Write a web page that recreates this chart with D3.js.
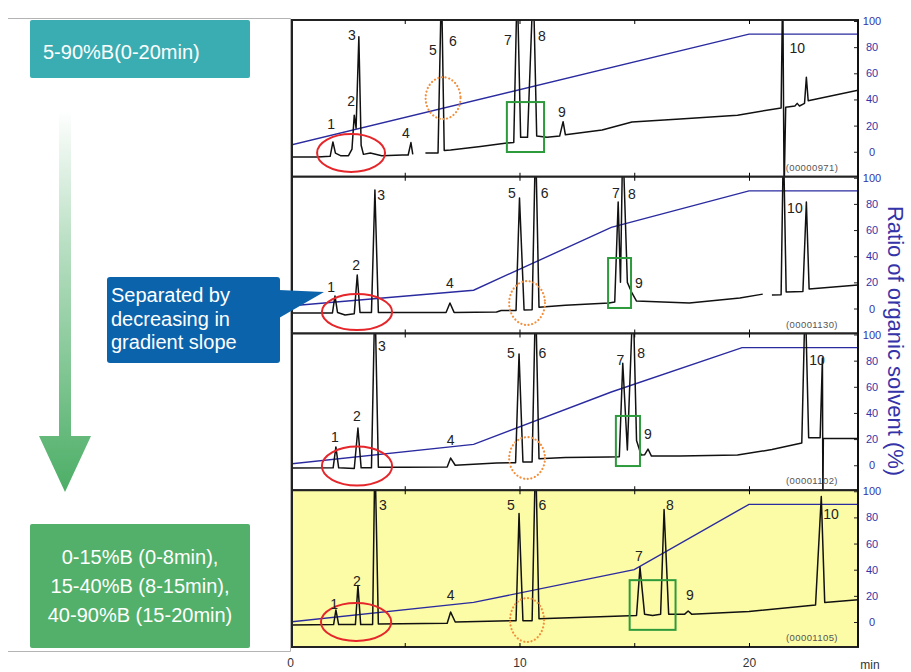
<!DOCTYPE html>
<html lang="en">
<head>
  <meta charset="utf-8">
  <title>Gradient optimisation – chromatograms</title>
  <script src="https://d3js.org/d3.v7.min.js"></script>
  <style>
    body { margin: 0; background: #fff; font-family: "Liberation Sans", Arial, sans-serif; }
    svg { display: block; }
    .peak { font-size: 14px; fill: #222; }
    .pid { font-size: 9.5px; fill: #555; letter-spacing: 0.4px; }
  </style>
</head>
<body>
  <svg width="911" height="672"></svg>
  <script>
    // ---- data ----
    const timeTicks = [0, 10, 20];
    const timeMinor = [5, 10, 15, 20];
    const ratioTicks = [0, 20, 40, 60, 80, 100];
    const panelIds = ["(00000971)", "(00001130)", "(00001102)", "(00001105)"];

    // %B programme of each run [min, %]
    const gradient1 = [[0, 5], [20, 90], [24.75, 90]];
    const gradient2 = [[0, 2], [8, 14], [14, 62], [20, 90], [24.75, 90]];
    const gradient3 = [[0, 1], [8, 16], [14, 56], [19.7, 90], [24.75, 90]];
    const gradient4 = [[0, 0], [8, 15], [15, 40], [20, 90], [24.75, 90]];

    // detector traces [min, signal]; null = break in the trace
    const trace1 = [[0, -4], [1.2, -4], [1.75, -3.5], [1.87, 7.5], [1.98, -1], [2.2, -3], [2.55, -3], [2.7, 2], [2.8, 28],
      [2.88, 18], [3.0, 88], [3.1, 5], [3.2, -2], [3.5, -1], [4.0, -3], [4.9, -2.5], [5.15, -2.5], [5.27, 7], [5.35, -2],
      null, [5.9, -1], [6.45, -1], [6.6, 130], [6.72, 1], [7.0, 1.3], [8.3, 4], [9.45, 6.7], [9.75, 7], [9.9, 130],
      [10.05, 11], [10.35, 11], [10.6, 130], [10.75, 12], [11.2, 11], [11.75, 12], [11.9, 23], [12.0, 13], [13.6, 16.6],
      [14.9, 22.7], [17, 25], [19.5, 28], [21.4, 33.5], [21.47, 130], [21.53, -30], [21.6, 34], [22.0, 35], [22.1, 37],
      [22.2, 35], [22.42, 37], [22.5, 57], [22.58, 39], [24.75, 47]];
    const trace2 = [[0, -3.4], [1.85, -3.4], [1.96, 9.6], [2.07, -3], [2.4, -5], [2.8, -4], [2.93, 25.6], [3.05, -3],
      [3.55, -3], [3.7, 90.6], [3.85, -3], [5, -3], [6.8, -3], [6.97, 4.2], [7.15, -3], [9.0, -2.7], [9.2, -1.5],
      [9.85, -1.5], [10.0, 84.5], [10.2, -1.1], [10.55, -1], [10.7, 130], [10.85, 1], [12, 2.5], [13.9, 4.2], [14.15, 5],
      [14.3, 81.5], [14.4, 20], [14.5, 130], [14.7, 20], [14.9, 11.9], [15.1, 5.7], [17.4, 4.2], [19.6, 8], [20.6, 11],
      null, [21.0, 10.3], [21.4, 10.5], [21.5, 130], [21.62, 12.6], [22.35, 13], [22.5, 81.5], [22.62, 15], [24.75, 18]];
    const trace3 = [[0, -2.1], [1.88, -2], [2.0, 14], [2.12, -2], [2.8, -2.5], [2.96, 28.5], [3.1, -2], [3.55, -2],
      [3.7, 130], [3.85, -1.5], [5, -1.5], [6.85, -1.3], [7.0, 5.5], [7.2, 0], [9.0, 1.7], [9.83, 2], [9.98, 85],
      [10.15, 2.5], [10.55, 2.5], [10.7, 130], [10.85, 5], [12, 6], [13.9, 6.3], [14.35, 6.5], [14.5, 78], [14.7, 11.7],
      [14.95, 130], [15.1, 19], [15.3, 7.8], [15.45, 8], [15.6, 12.4], [15.75, 7], [17, 7], [19.5, 7.8], [21, 12],
      [22.3, 17], [22.45, 130], [22.6, 21], [23.1, 21], [23.2, 82], [23.22, -30], [23.24, 20.5], [24.75, 20.5]];
    const trace4 = [[0, -2.3], [1.9, -2], [2.0, 9.2], [2.12, -2], [2.85, -2], [2.96, 28], [3.08, -2], [3.6, -2],
      [3.7, 130], [3.85, -1.5], [6.85, -1], [7.0, 7.6], [7.2, 0], [9.85, 1], [9.98, 83], [10.15, 1], [10.55, 1],
      [10.7, 130], [10.85, 2.5], [13.5, 4], [15.1, 5], [15.25, 42], [15.45, 6], [15.8, 5], [16.15, 6], [16.3, 86],
      [16.5, 6], [17.2, 6], [17.35, 8.4], [17.5, 6], [20, 8], [22.9, 13], [23.15, 96], [23.3, 15], [24.75, 17]];

    // peak numbers [text, min, signal]
    const labels1 = [["1", 1.79, 17.4], ["2", 2.66, 35], ["3", 2.7, 85.4], ["4", 5.05, 10.5], ["5", 6.23, 74],
      ["6", 7.1, 81], ["7", 9.5, 81.6], ["8", 10.98, 84.7], ["9", 11.85, 26.6], ["10", 22.1, 75.5]];
    const labels2 = [["1", 1.79, 12.6], ["2", 2.88, 29.4], ["3", 3.97, 83], ["4", 6.97, 15.7], ["5", 9.67, 84.5],
      ["6", 11.1, 84.5], ["7", 14.2, 84.5], ["8", 14.9, 83.7], ["9", 15.2, 15.7], ["10", 22.0, 73]];
    const labels3 = [["1", 1.96, 17.8], ["2", 2.92, 33.8], ["3", 4.0, 87.4], ["4", 7.0, 15.5], ["5", 9.63, 82],
      ["6", 11.0, 82], ["7", 14.4, 76.7], ["8", 15.3, 82], ["9", 15.6, 20], ["10", 22.96, 76.7]];
    const labels4 = [["1", 1.92, 10], ["2", 2.92, 27.5], ["3", 4.05, 85.7], ["4", 7.0, 16.8], ["5", 9.63, 85.7],
      ["6", 11.0, 85.7], ["7", 15.2, 46.7], ["8", 16.55, 85.7], ["9", 17.43, 16.8], ["10", 23.57, 78.8]];

    // highlight marks per panel: ellipse [min, signal, half-width min, half-height signal], box [min0, min1, sig0, sig1]
    const redRings = [[2.66, -1, 1.48, 14.5], [2.92, -2.7, 1.53, 13.8], [2.92, -0.6, 1.53, 14.9], [2.88, 0, 1.53, 14.5]];
    const orangeRings = [[6.67, 41, 0.76, 16], [10.33, 4.2, 0.78, 16.8], [10.33, 5.5, 0.78, 16], [10.33, 1.5, 0.74, 16.8]];
    const greenBoxes = [[9.45, 11.07, -0.2, 38], [13.86, 14.86, 0.4, 38.6], [14.2, 15.25, -0.6, 37.7], [14.8, 16.8, -6, 32]];

    const runs = [
      { trace: trace1, gradient: gradient1, labels: labels1 },
      { trace: trace2, gradient: gradient2, labels: labels2 },
      { trace: trace3, gradient: gradient3, labels: labels3 },
      { trace: trace4, gradient: gradient4, labels: labels4 }
    ];

    // ---- layout ----
    const svg = d3.select("svg");
    const plotLeft = 290, plotRight = 858, plotTop = 20, plotBottom = 647;
    const panelH = (plotBottom - plotTop) / runs.length;
    const blue = "#3434a8";
    const panelFill = ["#fff", "#fff", "#fff", "#fdfca6"];

    const x = d3.scaleLinear().domain([0, 24.75]).range([plotLeft, plotRight]);

    const defs = svg.append("defs");
    const grad = defs.append("linearGradient").attr("id", "arrowFill")
      .attr("x1", 0).attr("y1", 0).attr("x2", 0).attr("y2", 1);
    grad.append("stop").attr("offset", "0%").attr("stop-color", "#ffffff");
    grad.append("stop").attr("offset", "35%").attr("stop-color", "#b9dfc3");
    grad.append("stop").attr("offset", "100%").attr("stop-color", "#4cae66");

    // gray frame around the left explanation column
    svg.append("path")
      .attr("d", "M8,18.5H290.5V651.5H8")
      .attr("fill", "none").attr("stroke", "#b4b4b4").attr("stroke-width", 1);

    // ---- panels ----
    runs.forEach((run, i) => {
      const top = plotTop + i * panelH;
      const bottom = top + panelH;
      const y = d3.scaleLinear().domain([0, 100]).range([top + panelH - 25, top + 1]);
      const g = svg.append("g");

      g.append("rect")
        .attr("x", x(0) + 2).attr("y", top)
        .attr("width", plotRight - x(0) - 2).attr("height", panelH)
        .attr("fill", panelFill[i]);

      defs.append("clipPath").attr("id", "clip" + i)
        .append("rect")
        .attr("x", x(0) + 2).attr("y", top)
        .attr("width", plotRight - x(0) - 2).attr("height", panelH);

      const inner = g.append("g").attr("clip-path", `url(#clip${i})`);

      const line = d3.line()
        .defined(d => d)
        .x(d => x(d[0]))
        .y(d => y(d[1]));

      // solvent gradient
      inner.append("path")
        .datum(run.gradient)
        .attr("d", line)
        .attr("fill", "none").attr("stroke", "#2b2ba0").attr("stroke-width", 1.4);

      // chromatogram
      inner.append("path")
        .datum(run.trace)
        .attr("d", line)
        .attr("fill", "none").attr("stroke", "#111").attr("stroke-width", 1.5)
        .attr("stroke-linejoin", "round");

      // highlights
      const r = redRings[i];
      g.append("ellipse")
        .attr("cx", x(r[0])).attr("cy", y(r[1]))
        .attr("rx", x(r[2]) - x(0)).attr("ry", y(0) - y(r[3]))
        .attr("fill", "none").attr("stroke", "#e5262b").attr("stroke-width", 2);

      const o = orangeRings[i];
      g.append("ellipse")
        .attr("cx", x(o[0])).attr("cy", y(o[1]))
        .attr("rx", x(o[2]) - x(0)).attr("ry", y(0) - y(o[3]))
        .attr("fill", "none").attr("stroke", "#f3903e").attr("stroke-width", 2.2)
        .attr("stroke-dasharray", "0.1,3.6").attr("stroke-linecap", "round");

      const b = greenBoxes[i];
      g.append("rect")
        .attr("x", x(b[0])).attr("y", y(b[3]))
        .attr("width", x(b[1]) - x(b[0])).attr("height", y(b[2]) - y(b[3]))
        .attr("fill", "none").attr("stroke", "#2d9a3c").attr("stroke-width", 2);

      // peak numbers
      g.selectAll("text.peak")
        .data(run.labels)
        .join("text")
        .attr("class", "peak")
        .attr("x", d => x(d[1])).attr("y", d => y(d[2]))
        .attr("text-anchor", "middle")
        .text(d => d[0]);

      g.append("text")
        .attr("class", "pid")
        .attr("x", 812).attr("y", bottom - 6)
        .attr("text-anchor", "middle")
        .text(panelIds[i]);

      // border
      g.append("rect")
        .attr("x", x(0) + 2).attr("y", top)
        .attr("width", plotRight - x(0) - 2).attr("height", panelH)
        .attr("fill", "none").attr("stroke", "#222").attr("stroke-width", 2);

      // time ticks on top and bottom edges (inward)
      g.append("g").attr("transform", `translate(0,${bottom})`)
        .call(d3.axisBottom(x).tickValues(timeMinor).tickSize(-4).tickFormat(""))
        .call(a => a.select(".domain").remove());
      g.append("g").attr("transform", `translate(0,${top})`)
        .call(d3.axisTop(x).tickValues(timeMinor).tickSize(-4).tickFormat(""))
        .call(a => a.select(".domain").remove());

      // organic-solvent ratio axis on the right
      g.append("g").attr("transform", `translate(${plotRight},0)`)
        .call(d3.axisRight(y).tickValues(ratioTicks).tickSize(-4).tickPadding(0))
        .call(a => a.select(".domain").remove())
        .call(a => a.selectAll("line").attr("stroke", "#222"))
        .call(a => a.selectAll("text")
          .attr("x", 14).attr("text-anchor", "middle")
          .attr("fill", blue)
          .style("font-family", "'Liberation Sans', Arial, sans-serif")
          .style("font-size", "11px"));
    });

    // right spine
    svg.append("line")
      .attr("x1", plotRight).attr("x2", plotRight)
      .attr("y1", plotTop).attr("y2", plotBottom)
      .attr("stroke", "#111").attr("stroke-width", 2);

    // time labels under the last panel
    svg.append("g").attr("transform", `translate(0,${plotBottom})`)
      .call(d3.axisBottom(x).tickValues(timeTicks).tickSize(0).tickPadding(11))
      .call(a => a.select(".domain").remove())
      .call(a => a.selectAll("text")
        .attr("fill", "#333")
        .style("font-family", "'Liberation Sans', Arial, sans-serif")
        .style("font-size", "12px"));

    svg.append("text")
      .attr("x", 870).attr("y", 669)
      .attr("text-anchor", "middle")
      .attr("fill", "#333").style("font-size", "12px")
      .text("min");

    svg.append("text")
      .attr("transform", "translate(888,341) rotate(90)")
      .attr("text-anchor", "middle")
      .attr("fill", blue).style("font-size", "22px")
      .text("Ratio of organic solvent (%)");

    // ---- left explanation column ----
    svg.append("rect")
      .attr("x", 30).attr("y", 20).attr("width", 220).attr("height", 58).attr("rx", 2)
      .attr("fill", "#3aadb2");
    svg.append("text")
      .attr("x", 43).attr("y", 59)
      .attr("fill", "#fff").style("font-size", "20px")
      .text("5-90%B(0-20min)");

    // downward arrow
    svg.append("path")
      .attr("d", "M59,110H71V436H91L65,492L39,436H59Z")
      .attr("fill", "url(#arrowFill)");

    svg.append("rect")
      .attr("x", 30).attr("y", 524).attr("width", 220).attr("height", 124).attr("rx", 2)
      .attr("fill", "#52b06a");
    svg.append("text")
      .attr("fill", "#fff").style("font-size", "20px")
      .attr("text-anchor", "middle")
      .selectAll("tspan")
      .data(["0-15%B (0-8min),", "15-40%B (8-15min),", "40-90%B (15-20min)"])
      .join("tspan")
      .attr("x", 140).attr("y", (d, i) => 564 + i * 29)
      .text(d => d);

    // callout
    svg.append("path")
      .attr("d", "M279,290L324,292L279,318Z")
      .attr("fill", "#0b63ab");
    svg.append("rect")
      .attr("x", 107).attr("y", 277).attr("width", 173).attr("height", 86).attr("rx", 3)
      .attr("fill", "#0b63ab");
    svg.append("text")
      .attr("fill", "#fff").style("font-size", "20px")
      .selectAll("tspan")
      .data(["Separated by", "decreasing in", "gradient slope"])
      .join("tspan")
      .attr("x", 111).attr("y", (d, i) => 302 + i * 23.5)
      .text(d => d);
  </script>
</body>
</html>
